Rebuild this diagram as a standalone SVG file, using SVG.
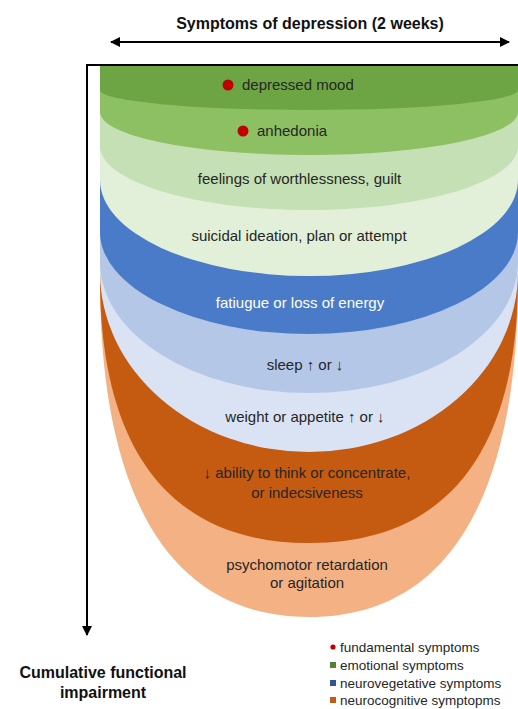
<svg xmlns="http://www.w3.org/2000/svg" width="518" height="709" viewBox="0 0 518 709">
<defs>
<style>
.t{font-family:"Liberation Sans",Arial,sans-serif;font-size:15px;fill:#262626;text-anchor:middle}
.tw{fill:#ffffff}
.b{font-family:"Liberation Sans",Arial,sans-serif;font-weight:bold;font-size:16px;fill:#111;text-anchor:middle}
.lg{font-family:"Liberation Sans",Arial,sans-serif;font-size:13.5px;fill:#262626}
.ax{stroke:#000;stroke-width:2;fill:none}
</style>
<marker id="ah" viewBox="0 0 10 10" refX="9" refY="5" markerWidth="10" markerHeight="12" markerUnits="userSpaceOnUse" orient="auto-start-reverse">
<path d="M0,0 L10,5 L0,10 Z" fill="#000"/>
</marker>
</defs>
<rect width="518" height="709" fill="#fff"/>
<g id="band-psychomotor">
<path d="M100,65 L100,280 C100,480 160,617 309,617 C458,617 518,480 518,280 L518,65 Z" fill="#F4B183"/>
<text class="t" x="307" y="569.5">psychomotor retardation</text>
<text class="t" x="307" y="587.5">or agitation</text>
</g>
<g id="band-concentrate">
<path d="M100,65 L100,278 C100,437 160,543 309,543 C458,543 518,437 518,278 L518,65 Z" fill="#C55A11"/>
<text class="t" x="307" y="477.5">↓ ability to think or concentrate,</text>
<text class="t" x="307" y="497.5">or indecsiveness</text>
</g>
<g id="band-weight">
<path d="M100,65 L100,272 A209,180 0 0 0 518,272 L518,65 Z" fill="#DAE3F3"/>
<text class="t" x="305" y="421.5">weight or appetite ↑ or ↓</text>
</g>
<g id="band-sleep">
<path d="M100,65 L100,262 A209,131 0 0 0 518,262 L518,65 Z" fill="#B4C7E7"/>
<text class="t" x="305" y="369.5">sleep ↑ or ↓</text>
</g>
<g id="band-fatigue">
<path d="M100,65 L100,232 A209,102 0 0 0 518,232 L518,65 Z" fill="#4A7BC8"/>
<text class="t tw" x="300" y="307.5">fatiugue or loss of energy</text>
</g>
<g id="band-suicidal">
<path d="M100,65 L100,180 A209,96 0 0 0 518,180 L518,65 Z" fill="#E2F0D9"/>
<text class="t" x="299" y="240.5">suicidal ideation, plan or attempt</text>
</g>
<g id="band-worthlessness">
<path d="M100,65 L100,146 A209,64 0 0 0 518,146 L518,65 Z" fill="#C5E0B4"/>
<text class="t" x="299.5" y="183.5">feelings of worthlessness, guilt</text>
</g>
<g id="band-anhedonia">
<path d="M100,65 L100,112 A209,43 0 0 0 518,112 L518,65 Z" fill="#8CC063"/>
<circle cx="243" cy="131" r="5.5" fill="#C00000"/>
<text class="t" x="257" y="135.5" style="text-anchor:start">anhedonia</text>
</g>
<g id="band-depressed">
<path d="M100,65 L100,90 A209,20 0 0 0 518,90 L518,65 Z" fill="#6DA544"/>
<circle cx="228" cy="85" r="5.5" fill="#C00000"/>
<text class="t" x="242" y="89.5" style="text-anchor:start">depressed mood</text>
</g>
<g id="connectors">
<line class="ax" x1="111" y1="42" x2="509" y2="42" marker-start="url(#ah)" marker-end="url(#ah)"/>
<path class="ax" d="M518,65 L87,65 L87,635" marker-end="url(#ah)"/>
</g>
<g id="title">
<text class="b" x="310" y="29">Symptoms of depression (2 weeks)</text>
</g>
<g id="axis-label">
<text class="b" x="103" y="678">Cumulative functional</text>
<text class="b" x="103" y="698">impairment</text>
</g>
<g id="legend">
<circle cx="333" cy="647" r="2.6" fill="#C00000"/>
<text class="lg" x="340" y="651.5">fundamental symptoms</text>
<rect x="330" y="662" width="6" height="6" fill="#548235"/>
<text class="lg" x="340" y="669.5">emotional symptoms</text>
<rect x="330" y="680" width="6" height="6" fill="#2F5597"/>
<text class="lg" x="340" y="687.5">neurovegetative symptoms</text>
<rect x="330" y="697" width="6" height="6" fill="#C55A11"/>
<text class="lg" x="340" y="704.5">neurocognitive symptopms</text>
</g>
</svg>
